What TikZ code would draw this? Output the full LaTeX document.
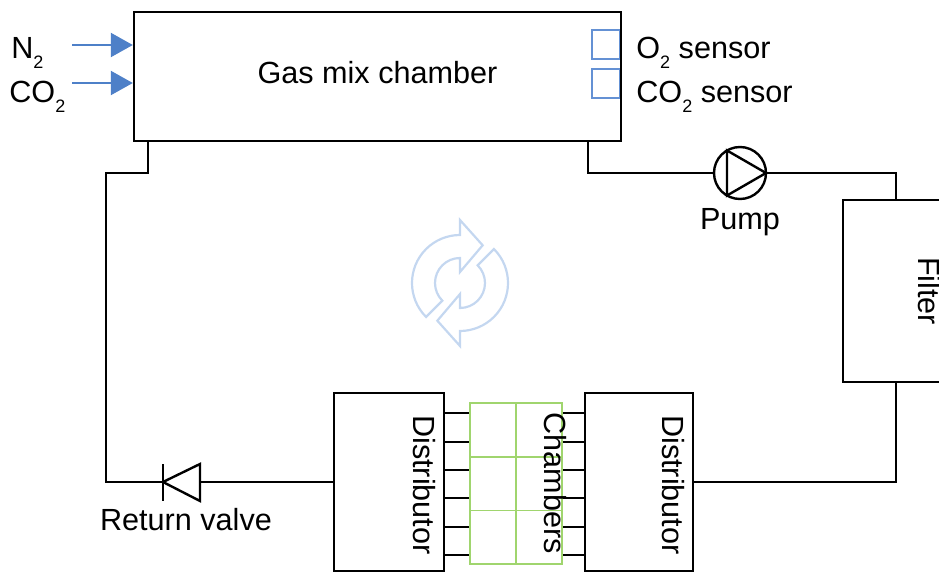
\documentclass[tikz,border=0pt]{standalone}
\usepackage{fontspec}
\setmainfont{Liberation Sans}
\usetikzlibrary{arrows.meta}
\definecolor{gasblue}{RGB}{78,128,200}
\definecolor{sensblue}{RGB}{100,145,212}
\definecolor{cellgreen}{RGB}{160,213,110}
\definecolor{iconblue}{RGB}{196,215,240}
\newcommand\lowidx[1]{\raisebox{-5.5pt}{\fontsize{9}{9}\selectfont #1}}
\tikzset{
  box/.style={draw, line width=1.2pt, inner sep=0pt},
  pipe/.style={line width=1.2pt},
  gasin/.style={-{Triangle[length=11pt,width=12pt]}, draw=gasblue, line width=1.1pt},
  sensor/.style={draw=sensblue, line width=1pt, minimum width=14pt, minimum height=14.5pt, inner sep=0pt},
  cell/.style={draw=cellgreen, line width=0.9pt, minimum width=23pt, minimum height=26.8pt, inner sep=0pt},
  vlabel/.style={rotate=-90, anchor=base, inner sep=0pt},
  pump/.style={draw, circle, line width=1.2pt, minimum size=26pt, inner sep=0pt, outer sep=0pt},
}
\begin{document}
\begin{tikzpicture}[x=0.5pt, y=-0.5pt, font=\fontsize{15.3}{18}\selectfont]
    \useasboundingbox (0,0) rectangle (939,573);
    \clip (0,0) rectangle (939,573);

    % gas mix chamber with its sensors
    \node [sensor, anchor=north east] (o2sens) at (621,29) {};
    \node [sensor, anchor=north east] (co2sens) at (621,68) {};
    \node [box, minimum width=243.5pt, minimum height=64.5pt, text depth=4pt] (chamber) at (377.5,76.5) {Gas mix chamber};
    \node [anchor=base west, inner sep=0pt] (o2lbl) at (636,58) {O\lowidx{2} sensor};
    \node [anchor=base west, inner sep=0pt] (co2lbl) at (636,102) {CO\lowidx{2} sensor};

    % inlets
    \node [anchor=base west, inner sep=0pt] (n2) at (11,58) {N\lowidx{2}};
    \node [anchor=base west, inner sep=0pt] (co2) at (9,102) {CO\lowidx{2}};
    \coordinate (n2src) at (72,45);
    \coordinate (co2src) at (72,83);
    \draw [gasin] (n2src) -- (n2src -| chamber.west);
    \draw [gasin] (co2src) -- (co2src -| chamber.west);

    % pump and filter
    \node [pump] (pump) at (740,173) {};
    \draw [pipe] (pump.120) -- (pump.0) -- (pump.240) -- cycle;
    \node [anchor=base] (pumplbl) at (740,229) {Pump};
    \node [box, minimum width=53pt, minimum height=91pt] (filter) at (896,291) {};
    \node [vlabel] (filterlbl) at (918,291) {Filter};
    \draw [pipe] (chamber.south east) ++(-34,0) |- (pump.west);
    \draw [pipe] (pump.east) -| (filter.north);

    % distributors and chambers
    \node [box, minimum width=55pt, minimum height=89pt] (distL) at (389,482) {};
    \node [box, minimum width=54pt, minimum height=89pt] (distR) at (639,482) {};
    \node [vlabel] (distLlbl) at (413,485) {Distributor};
    \node [vlabel] (distRlbl) at (662,485) {Distributor};
    \foreach \c/\x in {a/493,b/539}
        \foreach \r/\y in {1/430,2/483.7,3/537.3}
            \node [cell] (cell\c\r) at (\x,\y) {};
    \foreach \y [count=\i] in {413,442,470,498,527,555} {
        \coordinate (s\i) at (0,\y);
        \draw [pipe] (distL.east |- s\i) -- (cella1.west |- s\i);
        \draw [pipe] (cellb1.east |- s\i) -- (distR.west |- s\i);
    }
    \node [vlabel] (celllbl) at (544,483) {Chambers};
    \draw [pipe] (filter.south) |- (distR.east);

    % return line with valve
    \coordinate (vtip) at (163,482);
    \coordinate (vbase) at (200,482);
    \coordinate (bendL) at (106,173);
    \draw [pipe, line join=miter] (vtip) -- (vbase |- 0,464) -- (vbase |- 0,501) -- cycle;
    \draw [pipe] (vtip |- 0,464) -- (vtip |- 0,501);
    \node [anchor=base] (valvelbl) at (186,530) {Return valve};
    \draw [pipe] (chamber.south west) ++(15,0) |- (bendL) |- (vtip);
    \draw [pipe] (vbase) -- (distL.west);

    % recirculation sign
    \foreach \rot in {0,180}
        \draw [iconblue, line width=1.1pt, line join=miter, shift={(460,283)}, rotate=\rot]
            (-225:48) arc [start angle=-225, end angle=-90, radius=48]
            -- (-90:63) -- (-59:44) -- (-90:11) -- (-90:25)
            arc [start angle=-90, end angle=-225, radius=25] -- cycle;
\end{tikzpicture}
\end{document}
